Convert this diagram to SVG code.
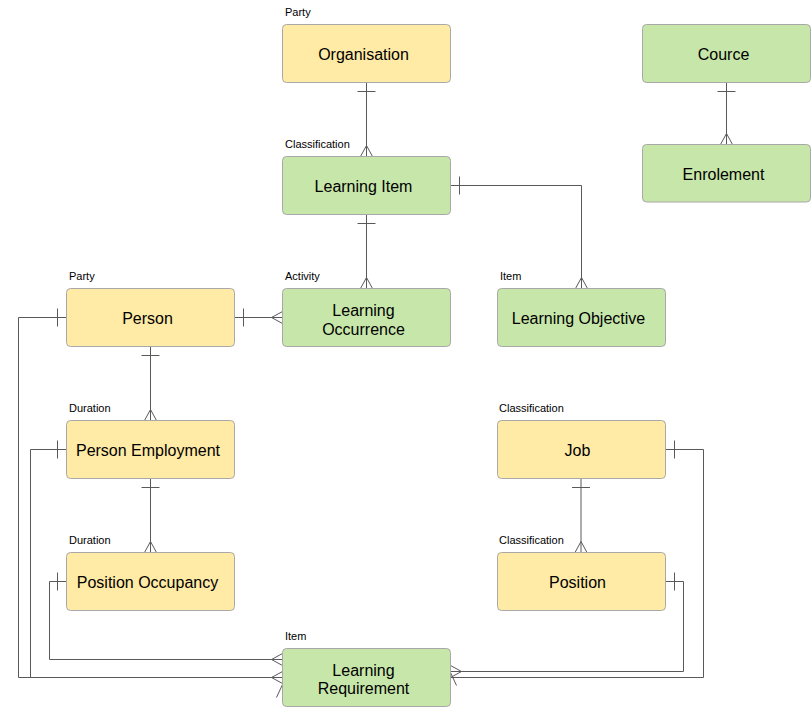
<svg xmlns="http://www.w3.org/2000/svg" width="811" height="717" viewBox="0 0 811 717">
<style>
.box{stroke:#a8a8a8;stroke-width:1}
.y{fill:#ffeaa6}
.g{fill:#c7e6aa}
.t{font-family:"Liberation Sans",Arial,sans-serif;font-size:16px;fill:#000;text-anchor:middle}
.s{font-family:"Liberation Sans",Arial,sans-serif;font-size:11px;fill:#000}
.c{fill:none;stroke:#595959;stroke-width:1}
</style>
<rect width="811" height="717" fill="#fff"/>
<g id="connectors" class="c">
<path d="M366.5,82.5V156.5M357.5,91.5H375.5M360.5,156.5L366.5,145.5L372.5,156.5"/>
<path d="M366.5,214.5V288.5M357.5,223.5H375.5M360.5,288.5L366.5,277.5L372.5,288.5"/>
<path d="M450.5,185.5H581.5V288.5M459.5,176.5V194.5M575.5,288.5L581.5,277.5L587.5,288.5"/>
<path d="M234.5,317.5H282.5M243.5,308.5V326.5M282.5,311.5L271.5,317.5L282.5,323.5"/>
<path d="M150.5,346.5V420.5M141.5,355.5H159.5M144.5,420.5L150.5,409.5L156.5,420.5"/>
<path d="M150.5,478.5V552.5M141.5,487.5H159.5M144.5,552.5L150.5,541.5L156.5,552.5"/>
<path d="M726.5,82.5V144.5M717.5,91.5H735.5M720.5,144.5L726.5,133.5L732.5,144.5"/>
<path d="M581,478.5V552.5M572,487.5H590M575,552.5L581,541.5L587,552.5"/>
<path d="M66.5,317.5H18.5V677.5H282.5M57.5,308.5V326.5M282.5,671.5L271.5,677.5L282.5,683.5"/>
<path d="M66.5,449.5H30.5V677.5H282.5M57.5,440.5V458.5M276.5,697.5L282.5,684.5L288.5,697.5"/>
<path d="M66.5,581.5H49.5V659.5H282.5M57.5,572.5V590.5M282.5,653.5L271.5,659.5L282.5,665.5"/>
<path d="M665.5,449.5H703.5V677.5H450.5M674.5,440.5V458.5M444.5,685.5L450.5,672.5L456.5,685.5"/>
<path d="M665.5,581.5H683.5V671.5H450.5M674.5,572.5V590.5M450.5,665.5L461.5,671.5L450.5,677.5"/>
</g>
<g id="organisation">
<text class="s" x="285" y="16">Party</text>
<rect class="box y" x="282.5" y="24.5" width="168" height="58" rx="4"/>
<text class="t" x="363.5" y="60">Organisation</text>
</g>
<g id="learning-item">
<text class="s" x="285" y="148">Classification</text>
<rect class="box g" x="282.5" y="156.5" width="168" height="58" rx="4"/>
<text class="t" x="363.5" y="192">Learning Item</text>
</g>
<g id="person">
<text class="s" x="69" y="280">Party</text>
<rect class="box y" x="66.5" y="288.5" width="168" height="58" rx="4"/>
<text class="t" x="147.5" y="324">Person</text>
</g>
<g id="learning-occurrence">
<text class="s" x="285" y="280">Activity</text>
<rect class="box g" x="282.5" y="288.5" width="168" height="58" rx="4"/>
<text class="t" x="363.5" y="316">Learning</text>
<text class="t" x="363.5" y="334.5">Occurrence</text>
</g>
<g id="learning-objective">
<text class="s" x="500" y="280">Item</text>
<rect class="box g" x="497.5" y="288.5" width="168" height="58" rx="4"/>
<text class="t" x="578.5" y="324">Learning Objective</text>
</g>
<g id="person-employment">
<text class="s" x="69" y="412">Duration</text>
<rect class="box y" x="66.5" y="420.5" width="168" height="58" rx="4"/>
<text class="t" x="148" y="456">Person Employment</text>
</g>
<g id="position-occupancy">
<text class="s" x="69" y="544">Duration</text>
<rect class="box y" x="66.5" y="552.5" width="168" height="58" rx="4"/>
<text class="t" x="147.5" y="588">Position Occupancy</text>
</g>
<g id="job">
<text class="s" x="499" y="412">Classification</text>
<rect class="box y" x="497.5" y="420.5" width="168" height="58" rx="4"/>
<text class="t" x="577.5" y="456">Job</text>
</g>
<g id="position">
<text class="s" x="499" y="544">Classification</text>
<rect class="box y" x="497.5" y="552.5" width="168" height="58" rx="4"/>
<text class="t" x="577.5" y="588">Position</text>
</g>
<g id="learning-requirement">
<text class="s" x="285" y="640">Item</text>
<rect class="box g" x="282.5" y="648.5" width="168" height="58" rx="4"/>
<text class="t" x="363.5" y="675.5">Learning</text>
<text class="t" x="363.5" y="694">Requirement</text>
</g>
<g id="cource">
<rect class="box g" x="642.5" y="24.5" width="168" height="58" rx="4"/>
<text class="t" x="723.5" y="60">Cource</text>
</g>
<g id="enrolement">
<rect class="box g" x="642.5" y="144.5" width="168" height="57.5" rx="4"/>
<text class="t" x="723.5" y="180">Enrolement</text>
</g>
</svg>
